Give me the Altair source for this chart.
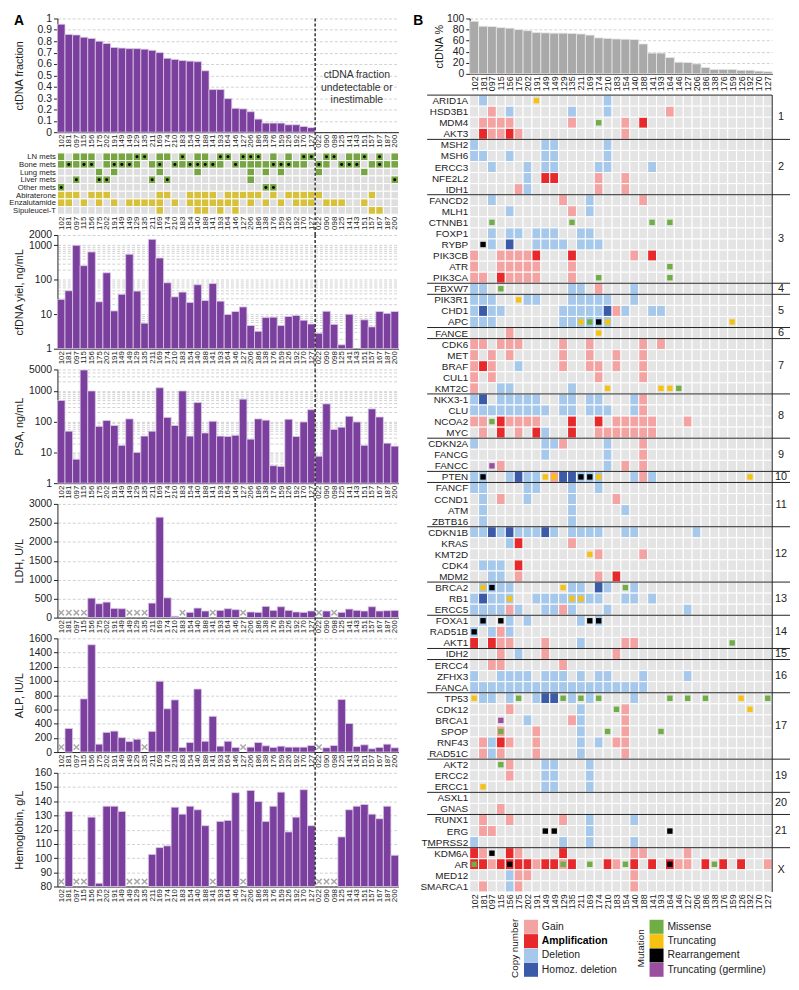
import altair as alt
import pandas as pd

FONT = "Liberation Sans"

# ---------------- data ----------------
SAMPLES = ["102", "181", "097", "115", "156", "175", "202", "191", "149", "149", "129", "135",
           "211", "169", "174", "210", "183", "154", "140", "188", "141", "193", "164", "146",
           "127", "206", "186", "138", "176", "159", "126", "192", "170", "127",
           "022", "090", "098", "125", "141", "143", "151", "157", "167", "187", "200"]
N_A = len(SAMPLES)
N_B = 34  # samples with estimable ctDNA fraction

CTDNA_FRACTION = [0.95, 0.86, 0.855, 0.835, 0.825, 0.80, 0.78, 0.745, 0.74, 0.735, 0.735, 0.73,
                  0.72, 0.70, 0.65, 0.64, 0.63, 0.625, 0.62, 0.54, 0.375, 0.375, 0.295, 0.21,
                  0.205, 0.18, 0.115, 0.08, 0.08, 0.08, 0.065, 0.065, 0.05, 0.04]

CFDNA_YIELD = [27, 48, 1000, 257, 645, 23, 160, 12.5, 38, 550, 47, 5.5, 1500, 430, 82, 32, 44, 22,
               72, 25, 78, 24, 9.8, 12, 16.3, 4.7, 3.2, 8, 8.2, 4.7, 8.6, 9.2, 6.7, 5.2,
               2.8, 12.2, 5.1, 1.3, 10, None, 6.9, 4.3, 12, 10.6, 12]

PSA = [490, 49, 6, 4800, 1000, 70, 109, 75, 17, 123, 10, 34, 49, 1270, 138, 75, 1000, 34,
       420, 43, 103, 34, 33, 36, 540, 27, 123, 112, 3.7, 3.5, 120, 33, 98, 245,
       7.5, 380, 56, 66, 150, 98, 17, 260, 142, 20, 16]

LDH = [None, None, None, None, 513, 365, 409, 243, 235, None, None, None, 383, 2650, 522, 35,
       None, 139, 252, 174, None, 191, 235, 209, None, 148, 139, 296, 191, 287, 191, 148, 139, 174,
       None, 174, None, 139, 226, 191, 174, 287, 174, 183, 190]

ALP = [None, 332, None, 748, 1510, 111, 277, 295, 203, 148, 180, None, 291, 997, 609, 734, 65,
       134, 887, 152, 503, 83, 152, 65, None, 69, 134, 88, 65, 83, 69, 69, 69, 92,
       None, 60, 92, 739, 402, 78, 102, 46, 65, 111, 60]

HEMOGLOBIN = [None, 132.8, None, None, 128.8, 82.3, 136.5, 136.5, 132.8, None, None, None, 102.6,
              107.4, 108.6, 135.8, 130.9, 136.5, 134, 122.8, None, 125.8, 126.5, 146, None, 147.6,
              139.8, 125.8, 136.5, 146.4, 118.4, 128.8, 148.1, 122.8,
              None, None, None, 114.9, 134, 136.5, 137.7, 130.9, 127.7, 136.5, 102]

CLIN_ROWS = ["LN mets", "Bone mets", "Lung mets", "Liver mets", "Other mets",
             "Abiraterone", "Enzalutamide", "Sipuleucel-T"]
CLIN_PRESENT = {
    "LN mets": [0, 2, 3, 4, 6, 7, 8, 9, 10, 11, 13, 14, 16, 18, 19, 21, 22, 24, 25, 26, 28, 30,
                32, 33, 35, 36, 38, 39, 40, 42, 44],
    "Bone mets": [0, 1, 2, 3, 4, 6, 7, 8, 9, 10, 12, 13, 15, 16, 17, 18, 19, 20, 21, 23, 24, 25,
                  26, 27, 28, 29, 30, 31, 32, 34, 35, 37, 38, 39, 41, 42, 43, 44],
    "Lung mets": [5, 7, 13, 18, 25, 27, 29, 34, 40],
    "Liver mets": [2, 5, 6, 12, 14, 25, 44],
    "Other mets": [0, 27, 28],
    "Abiraterone": [0, 1, 2, 4, 5, 6, 13, 14, 17, 18, 19, 20, 22, 23, 24, 25, 26, 28, 30, 31, 32,
                    33, 34, 41],
    "Enzalutamide": [0, 1, 3, 5, 7, 9, 10, 11, 12, 13, 15, 17, 18, 19, 20, 21, 22, 23, 25, 27,
                     29, 31, 32, 33, 35, 36, 37, 40],
    "Sipuleucel-T": [13, 18, 19, 21, 23, 41, 42],
}
CLIN_DOTS = {
    "LN mets": [10, 11, 16, 21, 22, 24, 25, 26, 32, 33, 35, 36, 40, 42],
    "Bone mets": [1, 3, 4, 7, 8, 9, 13, 15, 17, 18, 19, 20, 23, 28, 29, 30, 34, 37, 38, 39, 42],
    "Liver mets": [2, 5, 6, 12, 14, 44],
    "Other mets": [0, 27, 28],
}

GENE_GROUPS = [
    ("1", ["ARID1A", "HSD3B1", "MDM4", "AKT3"]),
    ("2", ["MSH2", "MSH6", "ERCC3", "NFE2L2", "IDH1"]),
    ("3", ["FANCD2", "MLH1", "CTNNB1", "FOXP1", "RYBP", "PIK3CB", "ATR", "PIK3CA"]),
    ("4", ["FBXW7"]),
    ("5", ["PIK3R1", "CHD1", "APC"]),
    ("6", ["FANCE"]),
    ("7", ["CDK6", "MET", "BRAF", "CUL1", "KMT2C"]),
    ("8", ["NKX3-1", "CLU", "NCOA2", "MYC"]),
    ("9", ["CDKN2A", "FANCG", "FANCC"]),
    ("10", ["PTEN"]),
    ("11", ["FANCF", "CCND1", "ATM", "ZBTB16"]),
    ("12", ["CDKN1B", "KRAS", "KMT2D", "CDK4", "MDM2"]),
    ("13", ["BRCA2", "RB1", "ERCC5"]),
    ("14", ["FOXA1", "RAD51B", "AKT1"]),
    ("15", ["IDH2"]),
    ("16", ["ERCC4", "ZFHX3", "FANCA"]),
    ("17", ["TP53", "CDK12", "BRCA1", "SPOP", "RNF43", "RAD51C"]),
    ("19", ["AKT2", "ERCC2", "ERCC1"]),
    ("20", ["ASXL1", "GNAS"]),
    ("21", ["RUNX1", "ERG", "TMPRSS2"]),
    ("X", ["KDM6A", "AR", "MED12", "SMARCA1"]),
]

# copy number per gene: g = gain, A = amplification, d = deletion, D = homozygous deletion
CN = {
    "ARID1A": {"d": [1, 15]},
    "HSD3B1": {"g": [2, 22], "d": [4, 11, 15]},
    "MDM4": {"g": [1, 2, 3, 4, 11, 17], "A": [19]},
    "AKT3": {"A": [1, 4], "g": [2, 3, 5, 17]},
    "MSH2": {"d": [0, 8, 9, 15]},
    "MSH6": {"d": [0, 1, 4, 8, 9, 15]},
    "ERCC3": {"d": [2, 6, 8, 9, 14, 15, 20]},
    "NFE2L2": {"d": [6], "A": [8, 9], "g": [14, 17]},
    "IDH1": {"g": [5, 14, 17], "d": [6]},
    "FANCD2": {"d": [2, 13], "g": [10, 19]},
    "MLH1": {"d": [4, 13], "g": [11]},
    "FOXP1": {"d": [2, 4, 5, 7, 8, 9, 12, 13]},
    "RYBP": {"d": [2, 7, 8, 9, 10, 12, 13, 14], "D": [4]},
    "PIK3CB": {"g": [0, 3, 4, 5, 6, 18], "A": [7, 11, 20]},
    "ATR": {"g": [0, 3, 4, 5, 6, 7, 11]},
    "PIK3CA": {"g": [0, 1, 4, 5, 6, 7, 11], "A": [3]},
    "FBXW7": {"d": [0, 1, 11, 12, 18], "g": [14]},
    "PIK3R1": {"d": [0, 1, 2, 6, 7, 11, 12, 13, 14, 15, 18]},
    "CHD1": {"d": [0, 2, 3, 10, 11, 12, 13, 14, 17, 20, 21], "D": [1, 15], "g": [16]},
    "APC": {"d": [0, 1, 2, 10, 11, 12, 13, 14, 15]},
    "FANCE": {"g": [4]},
    "CDK6": {"g": [0, 1, 3, 4, 5, 10, 13, 19, 21]},
    "MET": {"g": [0, 2, 4, 10, 13, 16, 19]},
    "BRAF": {"g": [0, 2, 10, 13, 14, 16, 19], "A": [1], "d": [5]},
    "CUL1": {"g": [0, 2, 14, 19]},
    "KMT2C": {"g": [0], "d": [3, 4, 11]},
    "NKX3-1": {"d": [0, 3, 4, 5, 6, 7, 10, 11, 13, 14, 18], "D": [1], "g": [19]},
    "CLU": {"d": [0, 1, 2, 3, 4, 5, 6, 7, 8, 10, 11, 13, 14, 15, 18], "g": [19]},
    "NCOA2": {"g": [0, 1, 4, 5, 6, 7, 16, 17, 18, 19, 20, 24], "A": [3, 11, 14]},
    "MYC": {"g": [1, 5, 14, 15, 16, 17, 18, 19, 20], "A": [3, 7, 11], "d": [8]},
    "CDKN2A": {"d": [0, 8, 9, 15], "g": [10, 19]},
    "FANCG": {"d": [8, 15], "g": [19]},
    "FANCC": {"g": [3, 17, 19], "d": [15]},
    "PTEN": {"d": [0, 1, 4, 6, 7, 12, 13, 14, 18, 20], "D": [5, 10, 11], "g": [9, 19]},
    "FANCF": {"d": [0, 1, 6, 7, 11, 14]},
    "CCND1": {"d": [1, 6, 11], "g": [3, 16]},
    "ATM": {"d": [1, 11, 17]},
    "ZBTB16": {"d": [1, 11]},
    "CDKN1B": {"d": [0, 1, 3, 5, 6, 7, 9, 11, 12, 13, 14, 17, 18, 25], "D": [2, 4, 8]},
    "KRAS": {"d": [4], "A": [5], "g": [11]},
    "KMT2D": {"g": [14, 19]},
    "CDK4": {"d": [1, 2, 3], "A": [5]},
    "MDM2": {"d": [2, 3], "g": [5, 14], "A": [16]},
    "BRCA2": {"d": [1, 2, 3, 4, 11, 12, 15, 18], "D": [14]},
    "RB1": {"d": [0, 2, 3, 4, 7, 8, 9, 10, 11, 12, 13, 14, 17, 18, 20], "D": [1]},
    "ERCC5": {"d": [0, 1, 2, 3, 5, 8, 9, 11, 15, 24], "g": [4, 10]},
    "FOXA1": {"d": [1, 4, 6, 12, 14]},
    "RAD51B": {"d": [0, 2, 4], "g": [3]},
    "AKT1": {"A": [0, 2], "g": [3, 4, 8, 17, 18], "d": [12]},
    "IDH2": {"g": [3, 8, 16], "d": [5]},
    "ERCC4": {"g": [2, 3, 10]},
    "ZFHX3": {"d": [0, 3, 4, 5, 6, 8, 9, 10, 12, 14, 15, 19, 24]},
    "FANCA": {"d": [0, 1, 2, 3, 4, 5, 6, 7, 8, 9, 10, 11, 12, 13, 14, 15, 16, 17, 18, 19]},
    "TP53": {"d": [1, 2, 4, 7, 11, 13, 18], "D": [8, 9]},
    "CDK12": {"g": [4, 17], "d": [12]},
    "BRCA1": {"d": [6, 12], "g": [11, 17]},
    "SPOP": {"g": [3, 7, 17], "d": [12]},
    "RNF43": {"g": [1, 4, 7, 16, 17], "d": [2, 12, 14], "A": [3]},
    "RAD51C": {"g": [1, 3, 7, 17], "d": [2, 12]},
    "AKT2": {"g": [4], "d": [8, 9, 13]},
    "ERCC2": {"g": [4], "d": [8, 9, 13]},
    "ERCC1": {"d": [8, 9, 13]},
    "GNAS": {"g": [3]},
    "RUNX1": {"g": [1, 4, 10], "d": [13, 18]},
    "ERG": {"g": [1, 2], "d": [13]},
    "TMPRSS2": {"d": [0, 10, 13, 18]},
    "KDM6A": {"A": [0, 4, 10], "g": [1, 5, 18, 19, 24]},
    "AR": {"A": [0, 1, 3, 4, 5, 6, 8, 9, 11, 15, 18, 20, 22, 26, 28, 30],
           "g": [2, 7, 10, 16, 23, 24, 33]},
    "MED12": {"d": [4], "g": [5, 6, 18]},
    "SMARCA1": {"g": [1, 5, 18], "d": [4]},
}

# mutations: m = missense, t = truncating, r = rearrangement, p = truncating (germline)
MUTATIONS = [
    ("ARID1A", 7, "t"), ("MDM4", 14, "m"),
    ("CTNNB1", 2, "m"), ("CTNNB1", 11, "m"), ("CTNNB1", 20, "m"), ("CTNNB1", 22, "m"),
    ("RYBP", 1, "r"), ("ATR", 22, "m"), ("PIK3CA", 14, "m"), ("PIK3CA", 22, "m"),
    ("FBXW7", 3, "m"), ("PIK3R1", 5, "t"),
    ("APC", 12, "t"), ("APC", 13, "m"), ("APC", 14, "r"), ("APC", 15, "t"), ("APC", 29, "t"),
    ("FANCE", 14, "t"),
    ("KMT2C", 15, "t"), ("KMT2C", 21, "t"), ("KMT2C", 22, "t"), ("KMT2C", 23, "m"),
    ("NCOA2", 2, "m"), ("FANCC", 2, "p"),
    ("PTEN", 1, "r"), ("PTEN", 8, "t"), ("PTEN", 9, "t"), ("PTEN", 12, "r"), ("PTEN", 13, "r"),
    ("PTEN", 14, "t"), ("PTEN", 31, "t"),
    ("KMT2D", 13, "t"),
    ("BRCA2", 1, "t"), ("BRCA2", 2, "r"), ("BRCA2", 10, "t"), ("BRCA2", 17, "m"),
    ("RB1", 4, "t"), ("RB1", 11, "t"), ("RB1", 12, "t"),
    ("FOXA1", 1, "r"), ("FOXA1", 3, "r"), ("FOXA1", 13, "r"), ("FOXA1", 14, "r"),
    ("RAD51B", 0, "r"), ("AKT1", 29, "m"),
    ("TP53", 0, "t"), ("TP53", 5, "m"), ("TP53", 10, "m"), ("TP53", 12, "m"), ("TP53", 14, "m"),
    ("TP53", 22, "m"), ("TP53", 24, "m"), ("TP53", 26, "m"), ("TP53", 30, "t"), ("TP53", 33, "m"),
    ("CDK12", 16, "m"), ("CDK12", 31, "t"),
    ("BRCA1", 3, "p"), ("SPOP", 3, "m"), ("SPOP", 15, "m"), ("SPOP", 21, "m"),
    ("AKT2", 3, "m"), ("ERCC1", 1, "t"),
    ("ERG", 8, "r"), ("ERG", 9, "r"), ("ERG", 22, "r"),
    ("KDM6A", 2, "r"),
    ("AR", 0, "m"), ("AR", 4, "r"), ("AR", 10, "m"), ("AR", 13, "m"), ("AR", 17, "m"),
    ("AR", 22, "r"), ("AR", 27, "m"),
]

CN_NAMES = {"g": "Gain", "A": "Amplification", "d": "Deletion", "D": "Homoz. deletion", "n": "None"}
MUT_NAMES = {"m": "Missense", "t": "Truncating", "r": "Rearrangement", "p": "Truncating (germline)"}
LEG_CN = ["Gain", "Amplification", "Deletion", "Homoz. deletion"]
LEG_MUT = ["Missense", "Truncating", "Rearrangement", "Truncating (germline)"]

# ---------------- style ----------------
PURPLE = "#7b3f9e"
BAR_EDGE = "#dccbe8"
GREY_BAR = "#a9a9a9"
PALETTE = {
    "Gain": "#f4a3a3", "Amplification": "#e8292b", "Deletion": "#a6c8ea",
    "Homoz. deletion": "#3b5ba9", "None": "#e4e4e4",
    "Missense": "#6fae45", "Truncating": "#f5c211", "Rearrangement": "#000000",
    "Truncating (germline)": "#9b4d9e",
    "Met": "#77a544", "Tx": "#d8c13a", "Off": "#dedede",
}
TXT = "#222222"

W_A, H_A, H_CLIN, SP_A = 345, 115, 62, 21
W_B, H_BAR_B, ROW_B = 306, 56, 11.2
GENES = [g for _, gs in GENE_GROUPS for g in gs]
N_G = len(GENES)
H_HEAT_B = round(N_G * ROW_B)
MANY = 500  # tick count large enough that explicit tick values are never thinned


def js_list(items):
    return "[" + ",".join("'" + s + "'" for s in items) + "]"


XS_A = alt.Scale(domain=[0, N_A], nice=False, zero=False)
XS_B = alt.Scale(domain=[0, N_B], nice=False, zero=False)


def x_axis(names, n, size=8, domain=True):
    return alt.Axis(values=[i + 0.5 for i in range(n)], tickCount=MANY,
                    labelExpr=js_list(names) + "[floor(datum.value)]",
                    labelAngle=270, labelFontSize=size, labelPadding=2, ticks=False,
                    labelOverlap=False, labelFlush=False,
                    grid=False, title=None, domain=domain, domainColor=TXT, labelColor=TXT)


def y_axis(title, values, major=None, title_x=-38, label_expr=None):
    kw = {}
    if major is not None:
        test = "indexof(" + str(major) + ", datum.value) >= 0"
        kw["labelExpr"] = test + " ? format(datum.value, 'd') : ''"
        kw["tickOpacity"] = {"condition": {"test": test, "value": 1}, "value": 0}
    elif label_expr is not None:
        kw["labelExpr"] = label_expr
    else:
        kw["format"] = "d"
    return alt.Axis(title=title, values=values, tickCount=MANY, grid=True, gridColor="#c6c6c6",
                    gridDash=[3, 2], gridWidth=0.8, tickSize=4, tickColor=TXT,
                    domainColor=TXT, labelFontSize=10.5, labelPadding=2, labelColor=TXT,
                    labelOverlap=False, labelFlush=False,
                    titleFontSize=11, titleFontWeight="normal", titleColor=TXT,
                    titleX=title_x, titleBaseline="middle", **kw)


def row_axis(names, size):
    return alt.Axis(values=[k + 0.5 for k in range(len(names))], tickCount=MANY,
                    labelExpr=js_list(names) + "[floor(datum.value)]",
                    ticks=False, domain=False, grid=False, title=None,
                    labelOverlap=False, labelFlush=False,
                    labelFontSize=size, labelPadding=2, labelColor=TXT)


def dashed_rule(height, ext):
    return alt.Chart(pd.DataFrame({"b": [N_B]})).mark_rule(
        color=TXT, strokeDash=[3, 2], strokeWidth=1.4).encode(
        x=alt.X("b:Q", scale=XS_A),
        y=alt.value(0), y2=alt.value(height + ext))


def bar_layers(values, scale, axis, baseline, markers=False, ext=SP_A):
    df = pd.DataFrame({"i": list(range(N_A)), "v": values})
    df["x0"] = df["i"]
    df["x1"] = df["i"] + 1
    df["xc"] = df["i"] + 0.5
    df["base"] = baseline
    present = df[df["v"].notna()]
    missing = df[df["v"].isna()]
    bars = alt.Chart(present).mark_rect(color=PURPLE, stroke=BAR_EDGE, strokeWidth=0.8).encode(
        x=alt.X("x0:Q", scale=XS_A, axis=x_axis(SAMPLES, N_A)),
        x2="x1:Q",
        y=alt.Y("v:Q", scale=scale, axis=axis),
        y2="base:Q")
    layers = [bars]
    if markers and len(missing):
        layers.append(alt.Chart(missing).mark_point(
            shape="M-1,-1L1,1M-1,1L1,-1", filled=False, strokeWidth=1.5, size=30,
            color="#ababab", opacity=1, yOffset=-5).encode(
            x=alt.X("xc:Q", scale=XS_A),
            y=alt.Y("base:Q", scale=scale)))
    layers.append(dashed_rule(H_A, ext))
    return layers


def panel_title(letter, dx=0):
    return alt.TitleParams(letter, anchor="start", frame="bounds", fontSize=14,
                           fontWeight="bold", offset=-15, dx=dx, color="#000000")


# ---------- panel A ----------
frac_layers = bar_layers(
    CTDNA_FRACTION + [None] * (N_A - N_B), alt.Scale(domain=[0, 1], nice=False),
    y_axis("ctDNA fraction", [round(0.1 * k, 1) for k in range(11)],
           label_expr="datum.value == 0 ? '0' : datum.value == 1 ? '1' : format(datum.value, '.1f')"),
    0)
note = alt.Chart(pd.DataFrame({"x": [(N_A + N_B) / 2], "y": [0.5]})).mark_text(
    text=["ctDNA fraction", "undetectable or", "inestimable"], fontSize=10.5,
    lineHeight=12.5, color="#333333", align="center", baseline="middle").encode(
    x=alt.X("x:Q", scale=XS_A), y=alt.Y("y:Q"))
frac = alt.layer(*frac_layers, note).properties(width=W_A, height=H_A, title=panel_title("A"))

clin_rows = []
for r, name in enumerate(CLIN_ROWS):
    pres = CLIN_PRESENT[name]
    dots = CLIN_DOTS.get(name, [])
    for c in range(N_A):
        status = ("Met" if r < 5 else "Tx") if c in pres else "Off"
        clin_rows.append(dict(r=r, r1=r + 1, ry=r + 0.5, c=c, c1=c + 1, cx=c + 0.5,
                              col=PALETTE[status], dot=c in dots))
clin_df = pd.DataFrame(clin_rows)
YS_CLIN = alt.Scale(domain=[0, len(CLIN_ROWS)], reverse=True, nice=False, zero=False)
clin_rect = alt.Chart(clin_df).mark_rect(stroke="white", strokeWidth=1).encode(
    x=alt.X("c:Q", scale=XS_A, axis=x_axis(SAMPLES, N_A, domain=False)),
    x2="c1:Q",
    y=alt.Y("r:Q", scale=YS_CLIN, axis=row_axis(CLIN_ROWS, 7.8)),
    y2="r1:Q",
    fill=alt.Fill("col:N", scale=None))
clin_dot = alt.Chart(clin_df[clin_df["dot"]]).mark_circle(size=9, color="#000000", opacity=1).encode(
    x=alt.X("cx:Q", scale=XS_A), y=alt.Y("ry:Q", scale=YS_CLIN))
clin = alt.layer(clin_rect, clin_dot, dashed_rule(H_CLIN, SP_A)).properties(width=W_A, height=H_CLIN)

yld_vals = [1, 2, 3, 4, 5, 6, 7, 8, 9, 10, 20, 30, 40, 50, 60, 70, 80, 90,
            100, 200, 300, 400, 500, 600, 700, 800, 900, 1000, 2000]
yld = alt.layer(*bar_layers(CFDNA_YIELD, alt.Scale(type="log", domain=[1, 2000], nice=False),
                            y_axis("cfDNA yiel, ng/mL", yld_vals, [1, 10, 100, 1000, 2000]), 1)
                ).properties(width=W_A, height=H_A)
psa_vals = yld_vals[:-1] + [2000, 3000, 4000, 5000]
psa = alt.layer(*bar_layers(PSA, alt.Scale(type="log", domain=[1, 5000], nice=False),
                            y_axis("PSA, ng/mL", psa_vals, [1, 10, 100, 1000, 5000]), 1)
                ).properties(width=W_A, height=H_A)
ldh = alt.layer(*bar_layers(LDH, alt.Scale(domain=[0, 3000], nice=False),
                            y_axis("LDH, U/L", list(range(0, 3001, 500))), 0, markers=True)
                ).properties(width=W_A, height=H_A)
alp = alt.layer(*bar_layers(ALP, alt.Scale(domain=[0, 1600], nice=False),
                            y_axis("ALP, IU/L", list(range(0, 1601, 200))), 0, markers=True)
                ).properties(width=W_A, height=H_A)
hb = alt.layer(*bar_layers(HEMOGLOBIN, alt.Scale(domain=[80, 160], nice=False, zero=False),
                           y_axis("Hemoglobin, g/L", list(range(80, 161, 10))), 80,
                           markers=True, ext=0)).properties(width=W_A, height=H_A)

panel_a = alt.vconcat(frac, clin, yld, psa, ldh, alp, hb, spacing=SP_A, bounds="flush")

# ---------- panel B ----------
dfb = pd.DataFrame({"i": list(range(N_B)), "v": [round(v * 100, 1) for v in CTDNA_FRACTION]})
dfb["x0"] = dfb["i"]
dfb["x1"] = dfb["i"] + 1
dfb["base"] = 0
bar_b = alt.Chart(dfb).mark_rect(color=GREY_BAR, stroke="#e8e8e8", strokeWidth=0.8).encode(
    x=alt.X("x0:Q", scale=XS_B, axis=x_axis(SAMPLES[:N_B], N_B, size=9)),
    x2="x1:Q",
    y=alt.Y("v:Q", scale=alt.Scale(domain=[0, 100], nice=False),
            axis=y_axis("ctDNA %", list(range(0, 101, 20)), title_x=-31)),
    y2="base:Q").properties(width=W_B, height=H_BAR_B, title=panel_title("B", dx=-20))

cells = []
for r, g in enumerate(GENES):
    look = {}
    for code, cols in CN.get(g, {}).items():
        for c in cols:
            look[c] = code
    for c in range(N_B):
        cells.append(dict(r=r, r1=r + 1, c=c, c1=c + 1,
                          col=PALETTE[CN_NAMES[look.get(c, "n")]]))
cells_df = pd.DataFrame(cells)
mut_df = pd.DataFrame([dict(cx=c + 0.5, ry=GENES.index(g) + 0.5, col=PALETTE[MUT_NAMES[t]])
                       for g, c, t in MUTATIONS])

YS_B = alt.Scale(domain=[0, N_G], reverse=True, nice=False, zero=False)
heat = alt.Chart(cells_df).mark_rect(stroke="white", strokeWidth=1).encode(
    x=alt.X("c:Q", scale=XS_B, axis=x_axis(SAMPLES[:N_B], N_B, size=9, domain=False)),
    x2="c1:Q",
    y=alt.Y("r:Q", scale=YS_B, axis=row_axis(GENES, 10)),
    y2="r1:Q",
    fill=alt.Fill("col:N", scale=None))
muts = alt.Chart(mut_df).mark_square(size=30, opacity=1, filled=True).encode(
    x=alt.X("cx:Q", scale=XS_B),
    y=alt.Y("ry:Q", scale=YS_B),
    color=alt.Color("col:N", scale=None))

bounds, acc = [], 0
mids = []
for lab, gs in GENE_GROUPS:
    mids.append(dict(lab=lab, mid=acc + len(gs) / 2, xx=N_B))
    acc += len(gs)
    if acc < N_G:
        bounds.append(acc)
grp_rules = alt.Chart(pd.DataFrame({"b": bounds})).mark_rule(color=TXT, strokeWidth=1).encode(
    y=alt.Y("b:Q", scale=YS_B), x=alt.value(-43), x2=alt.value(W_B + 18))
top_rule = alt.Chart(pd.DataFrame({"b": [0]})).mark_rule(color=TXT, strokeWidth=1).encode(
    y=alt.Y("b:Q", scale=YS_B), x=alt.value(-43), x2=alt.value(W_B))
right_rule = alt.Chart(pd.DataFrame({"b": [N_B]})).mark_rule(color=TXT, strokeWidth=1).encode(
    x=alt.X("b:Q", scale=XS_B), y=alt.value(0), y2=alt.value(H_HEAT_B))
grp_text = alt.Chart(pd.DataFrame(mids)).mark_text(
    fontSize=11, align="center", baseline="middle", dx=9, color=TXT).encode(
    x=alt.X("xx:Q", scale=XS_B), y=alt.Y("mid:Q", scale=YS_B),
    text="lab:N")
heat_chart = alt.layer(heat, muts, grp_rules, top_rule, right_rule, grp_text).properties(
    width=W_B, height=H_HEAT_B)

# legend drawn as a small chart
leg_rows = [dict(grp="Copy number", i=k, label=l, col=PALETTE[l]) for k, l in enumerate(LEG_CN)] + \
           [dict(grp="Mutation", i=k, label=l, col=PALETTE[l]) for k, l in enumerate(LEG_MUT)]
leg_df = pd.DataFrame(leg_rows)
LX = alt.Scale(type="point", domain=["Copy number", "Mutation"], range=[62, 189], padding=0)
LY = alt.Scale(type="point", domain=[0, 1, 2, 3], padding=0.5)
leg_sq = alt.Chart(leg_df).mark_square(size=200, opacity=1, filled=True).encode(
    x=alt.X("grp:N", scale=LX, axis=None), y=alt.Y("i:O", scale=LY, axis=None),
    color=alt.Color("col:N", scale=None))
leg_txt = alt.Chart(leg_df[leg_df["label"] != "Amplification"]).mark_text(
    align="left", baseline="middle", dx=11, fontSize=10.5, color=TXT).encode(
    x=alt.X("grp:N", scale=LX, axis=None), y=alt.Y("i:O", scale=LY, axis=None), text="label:N")
leg_bold = alt.Chart(leg_df[leg_df["label"] == "Amplification"]).mark_text(
    align="left", baseline="middle", dx=11, fontSize=10.5, fontWeight="bold", color="#000000").encode(
    x=alt.X("grp:N", scale=LX, axis=None), y=alt.Y("i:O", scale=LY, axis=None), text="label:N")
leg_title = alt.Chart(pd.DataFrame({"grp": ["Copy number", "Mutation"]})).mark_text(
    angle=270, align="center", baseline="middle", fontSize=10, color=TXT, xOffset=-16).encode(
    x=alt.X("grp:N", scale=LX, axis=None), y=alt.value(29), text="grp:N")
legend = alt.layer(leg_sq, leg_txt, leg_bold, leg_title).properties(width=W_B, height=58)

panel_b = alt.vconcat(bar_b, alt.vconcat(heat_chart, legend, spacing=28, bounds="flush"),
                      spacing=21.5, bounds="flush")

chart = alt.hconcat(panel_a, panel_b, spacing=14).properties(
    padding={"left": 0, "top": 0, "right": 0, "bottom": 0}
).configure(font=FONT).configure_view(stroke=None).configure_axis(
    labelFont=FONT, titleFont=FONT, labelOverlap=False, labelFlush=False
).configure_title(font=FONT)

chart.save("out.html", embed_options={"renderer": "svg", "actions": False})
